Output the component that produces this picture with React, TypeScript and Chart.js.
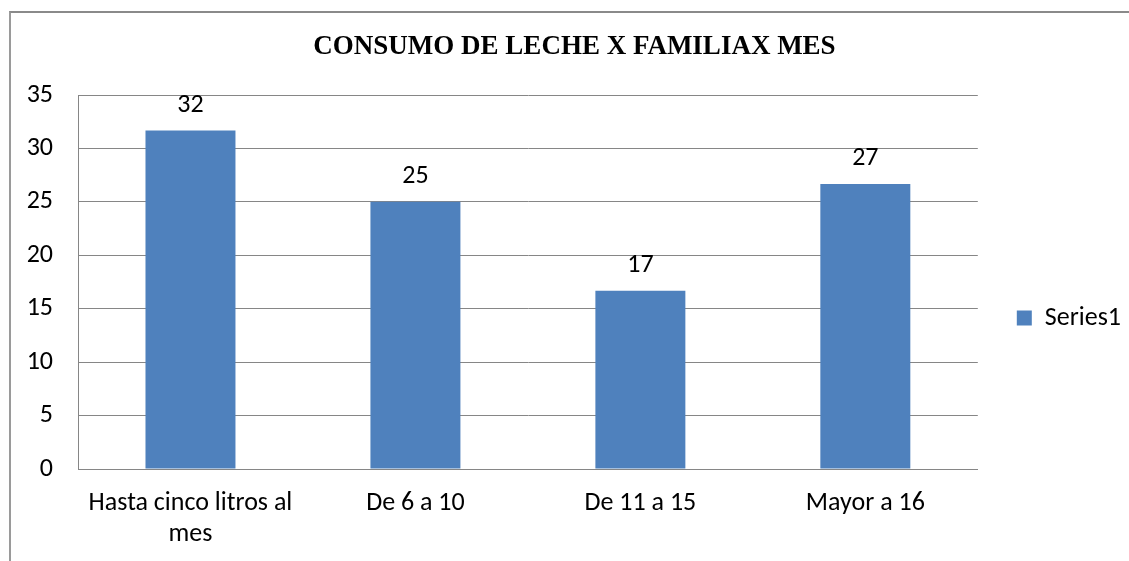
import React, { useEffect, useRef } from "react";
import { Chart, registerables } from "chart.js";

Chart.register(...registerables);

const chartTitle = "CONSUMO DE LECHE X FAMILIAX MES";
const categories: (string | string[])[] = [["Hasta cinco litros al", "mes"], "De 6 a 10", "De 11 a 15", "Mayor a 16"];
const seriesName = "Series1";
const values = [31.67, 25, 16.67, 26.67];
const yMin = 0;
const yMax = 35;
const yStep = 5;

const FONT = "Carlito, Calibri, Lato, sans-serif";
const FONT_SIZE = 26;
const BAR_COLOR = "#4F81BD";
const GRID_COLOR = "#868686";

const dataLabels = {
  id: "dataLabels",
  afterDatasetsDraw(chart: any) {
    const ctx = chart.ctx;
    const meta = chart.getDatasetMeta(0);
    const data = chart.data.datasets[0].data as number[];
    ctx.save();
    ctx.font = `${FONT_SIZE}px ${FONT}`;
    ctx.fillStyle = "#000";
    ctx.textAlign = "center";
    ctx.textBaseline = "alphabetic";
    meta.data.forEach((bar: any, i: number) => {
      ctx.fillText(String(Math.round(data[i])), bar.x, bar.y - 19);
    });
    ctx.restore();
  },
};

export default function App() {
  const ref = useRef<HTMLCanvasElement>(null);
  useEffect(() => {
    if (!ref.current) return;
    const chart = new Chart(ref.current, {
      type: "bar",
      data: {
        labels: categories,
        datasets: [
          {
            label: seriesName,
            data: values,
            backgroundColor: BAR_COLOR,
            borderWidth: 0,
            categoryPercentage: 1,
            barPercentage: 0.4,
          },
        ],
      },
      options: {
        animation: false,
        responsive: false,
        devicePixelRatio: 1,
        layout: { padding: { left: 18, right: -2, top: 0, bottom: 0 } },
        plugins: {
          title: {
            display: true,
            text: chartTitle,
            color: "#000",
            font: { family: "'Liberation Serif', 'Times New Roman', serif", size: 27, weight: "bold", lineHeight: 1.2 },
            padding: { top: 31, bottom: 31.6 },
          },
          legend: {
            position: "right",
            title: {
              display: true,
              text: " ",
              font: { size: 10, lineHeight: 1.2 },
              padding: { top: 63, bottom: 0 },
            },
            labels: {
              boxWidth: 15,
              boxHeight: 15,
              padding: 39,
              color: "#000",
              font: { family: FONT, size: FONT_SIZE },
            },
          },
          tooltip: { enabled: false },
        },
        scales: {
          x: {
            grid: { display: false, drawTicks: false },
            border: { display: true, color: GRID_COLOR, width: 1 },
            ticks: {
              color: "#000",
              padding: 19,
              maxRotation: 0,
              autoSkip: false,
              font: { family: FONT, size: FONT_SIZE, lineHeight: 1.2 },
            },
            afterFit: (s: any) => {
              s.height = 92;
            },
          },
          y: {
            min: yMin,
            max: yMax,
            grid: { color: GRID_COLOR, drawTicks: false, lineWidth: 1 },
            border: { display: true, color: GRID_COLOR, width: 1 },
            ticks: {
              stepSize: yStep,
              color: "#000",
              padding: 25,
              font: { family: FONT, size: FONT_SIZE },
            },
            afterFit: (s: any) => {
              s.width = 60;
            },
          },
        },
      },
      plugins: [dataLabels],
    });
    return () => chart.destroy();
  }, []);

  return (
    <div style={{ position: "absolute", left: 0, top: 0, width: 1129, height: 561, background: "#fff", overflow: "hidden" }}>
      <div
        style={{
          position: "absolute",
          left: 9,
          top: 11,
          right: -5,
          bottom: -5,
          borderLeft: "2px solid #9a9a9a",
          borderTop: "2px solid #8a8a8a",
        }}
      />
      <canvas ref={ref} width={1129} height={561} style={{ position: "absolute", left: 0, top: 0 }} />
    </div>
  );
}
